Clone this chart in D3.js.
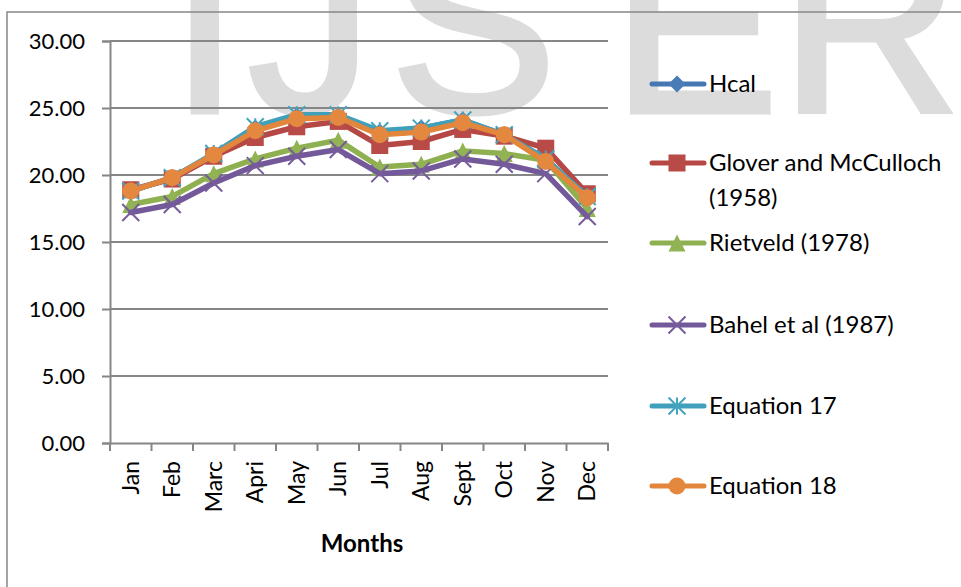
<html>
<head>
<meta charset="utf-8">
<script src="https://d3js.org/d3.v7.min.js"></script>
<style>
  body { margin: 0; background: #fff; }
  text { font-family: Lato, "Liberation Sans", sans-serif; }
</style>
</head>
<body>
<div id="chart"></div>
<script>
// data
var months = ["Jan", "Feb", "Marc", "Apri", "May", "Jun", "Jul", "Aug", "Sept", "Oct", "Nov", "Dec"];
var hcal     = [18.8, 19.8, 21.5, 23.5, 24.4, 24.4, 23.2, 23.5, 24.1, 23.0, 21.2, 18.3];
var glover   = [18.9, 19.7, 21.4, 22.8, 23.6, 24.0, 22.2, 22.5, 23.4, 22.9, 22.0, 18.6];
var rietveld = [17.8, 18.4, 20.1, 21.2, 22.0, 22.6, 20.6, 20.8, 21.8, 21.6, 21.1, 17.5];
var bahel    = [17.2, 17.8, 19.4, 20.7, 21.4, 21.9, 20.1, 20.3, 21.2, 20.8, 20.1, 16.9];
var eq17     = [18.8, 19.8, 21.6, 23.6, 24.5, 24.5, 23.3, 23.5, 24.1, 23.0, 21.2, 18.4];
var eq18     = [18.8, 19.8, 21.5, 23.3, 24.2, 24.3, 23.0, 23.2, 23.9, 23.0, 21.0, 18.3];
var yTicks = [0, 5, 10, 15, 20, 25, 30];

var series = [
  {name: ["Hcal"], values: hcal, line: "#4677B2", fill: "#4A7CB7", shape: "diamond"},
  {name: ["Glover and McCulloch", "(1958)"], values: glover, line: "#B54744", fill: "#B84A47", shape: "square"},
  {name: ["Rietveld (1978)"], values: rietveld, line: "#8FB050", fill: "#92B353", shape: "triangle"},
  {name: ["Bahel et al (1987)"], values: bahel, line: "#74599A", fill: "#775C9C", shape: "x"},
  {name: ["Equation 17"], values: eq17, line: "#40A0BB", fill: "#43A4BF", shape: "star"},
  {name: ["Equation 18"], values: eq18, line: "#E2863C", fill: "#E3883E", shape: "circle"}
];

var W = 961, H = 587;
var svg = d3.select("#chart").append("svg")
    .attr("width", W)
    .attr("height", H);

// watermark
var wm = svg.append("g").attr("fill", "#dcdcdc").attr("stroke", "#dcdcdc").attr("stroke-width", 5);
[["I", 170], ["J", 248], ["S", 390], ["E", 612], ["R", 780]].forEach(function(l) {
  wm.append("text").attr("x", l[1]).attr("y", 112)
    .attr("font-size", 250)
    .style("font-family", "'Liberation Sans', Arial, sans-serif")
    .text(l[0]);
});

// outer frame
svg.append("path")
    .attr("d", "M7," + H + "V12H" + W)
    .attr("fill", "none")
    .attr("stroke", "#868686")
    .attr("stroke-width", 1.5);

var x = d3.scaleBand().domain(months).range([110, 608]);
var y = d3.scaleLinear().domain([0, 30]).range([443, 41]);
var cx = function(i) { return x(months[i]) + x.bandwidth() / 2; };

// gridlines
svg.append("g").selectAll("line")
  .data(yTicks.slice(1))
  .enter().append("line")
    .attr("x1", 110).attr("x2", 608)
    .attr("y1", function(d) { return y(d); })
    .attr("y2", function(d) { return y(d); })
    .attr("stroke", "#868686")
    .attr("stroke-width", 2);

// y axis
var yAxis = svg.append("g")
    .attr("transform", "translate(110,0)")
    .call(d3.axisLeft(y).tickValues(yTicks).tickFormat(d3.format(".2f")).tickSize(8).tickPadding(17));
yAxis.select(".domain").attr("stroke", "#868686").attr("stroke-width", 2);
yAxis.selectAll(".tick line").attr("stroke", "#868686").attr("stroke-width", 2);
yAxis.selectAll(".tick text").attr("font-size", 22).attr("fill", "#000").style("font-family", "Lato, sans-serif");

// x axis
var xAxis = svg.append("g")
    .attr("transform", "translate(0,443)")
    .call(d3.axisBottom(x).tickSize(0).tickPadding(0));
xAxis.select(".domain").attr("stroke", "#868686").attr("stroke-width", 2);
xAxis.selectAll(".tick text")
    .attr("transform", "rotate(-90)")
    .attr("text-anchor", "end")
    .attr("dy", "0.35em")
    .attr("x", -18)
    .attr("y", 0)
    .attr("font-size", 23)
    .attr("fill", "#000")
    .style("font-family", "Lato, sans-serif");
xAxis.append("g").selectAll("line")
  .data(d3.range(months.length + 1))
  .enter().append("line")
    .attr("x1", function(i) { return 110 + i * x.bandwidth(); })
    .attr("x2", function(i) { return 110 + i * x.bandwidth(); })
    .attr("y1", 0).attr("y2", 8)
    .attr("stroke", "#868686").attr("stroke-width", 2);

svg.append("text")
    .attr("x", 362).attr("y", 552)
    .attr("text-anchor", "middle")
    .attr("font-size", 24)
    .attr("font-weight", "bold")
    .text("Months");

// marker drawing
function marker(g, shape, s, fill, stroke) {
  var h = s / 2;
  if (shape === "diamond") {
    g.append("path").attr("d", "M0," + (-h) + "L" + h + ",0L0," + h + "L" + (-h) + ",0Z").attr("fill", fill);
  } else if (shape === "square") {
    g.append("rect").attr("x", -h).attr("y", -h).attr("width", s).attr("height", s).attr("fill", fill);
  } else if (shape === "triangle") {
    g.append("path").attr("d", "M0," + (-h) + "L" + h + "," + h + "L" + (-h) + "," + h + "Z").attr("fill", fill);
  } else if (shape === "circle") {
    g.append("circle").attr("r", h).attr("fill", fill);
  } else if (shape === "x") {
    g.append("path").attr("d", "M" + (-h) + "," + (-h) + "L" + h + "," + h + "M" + h + "," + (-h) + "L" + (-h) + "," + h)
      .attr("stroke", stroke).attr("stroke-width", 2).attr("fill", "none");
  } else if (shape === "star") {
    g.append("path").attr("d", "M" + (-h) + "," + (-h) + "L" + h + "," + h + "M" + h + "," + (-h) + "L" + (-h) + "," + h + "M0," + (-h) + "V" + h)
      .attr("stroke", stroke).attr("stroke-width", 2).attr("fill", "none");
  }
}

var line = d3.line()
    .x(function(d, i) { return cx(i); })
    .y(function(d) { return y(d); });

series.forEach(function(s) {
  var g = svg.append("g");
  g.append("path")
      .attr("d", line(s.values))
      .attr("fill", "none")
      .attr("stroke", s.line)
      .attr("stroke-width", 5.5)
      .attr("stroke-linejoin", "round")
      .attr("stroke-linecap", "round");
  s.values.forEach(function(v, i) {
    var m = g.append("g").attr("transform", "translate(" + cx(i) + "," + y(v) + ")");
    marker(m, s.shape, 17, s.fill, s.fill);
  });
});

// legend
var legY = [84, 163, 243, 325, 406, 486];
series.forEach(function(s, k) {
  var g = svg.append("g").attr("transform", "translate(0," + legY[k] + ")");
  g.append("line")
      .attr("x1", 652).attr("x2", 704)
      .attr("stroke", s.line).attr("stroke-width", 5)
      .attr("stroke-linecap", "round");
  var m = g.append("g").attr("transform", "translate(677,0)");
  marker(m, s.shape, 17, s.fill, s.fill);
  s.name.forEach(function(t, j) {
    g.append("text")
        .attr("x", 709).attr("y", j * 35)
        .attr("dy", "0.35em")
        .attr("font-size", 24)
        .attr("fill", "#000")
        .text(t);
  });
});
</script>
</body>
</html>
